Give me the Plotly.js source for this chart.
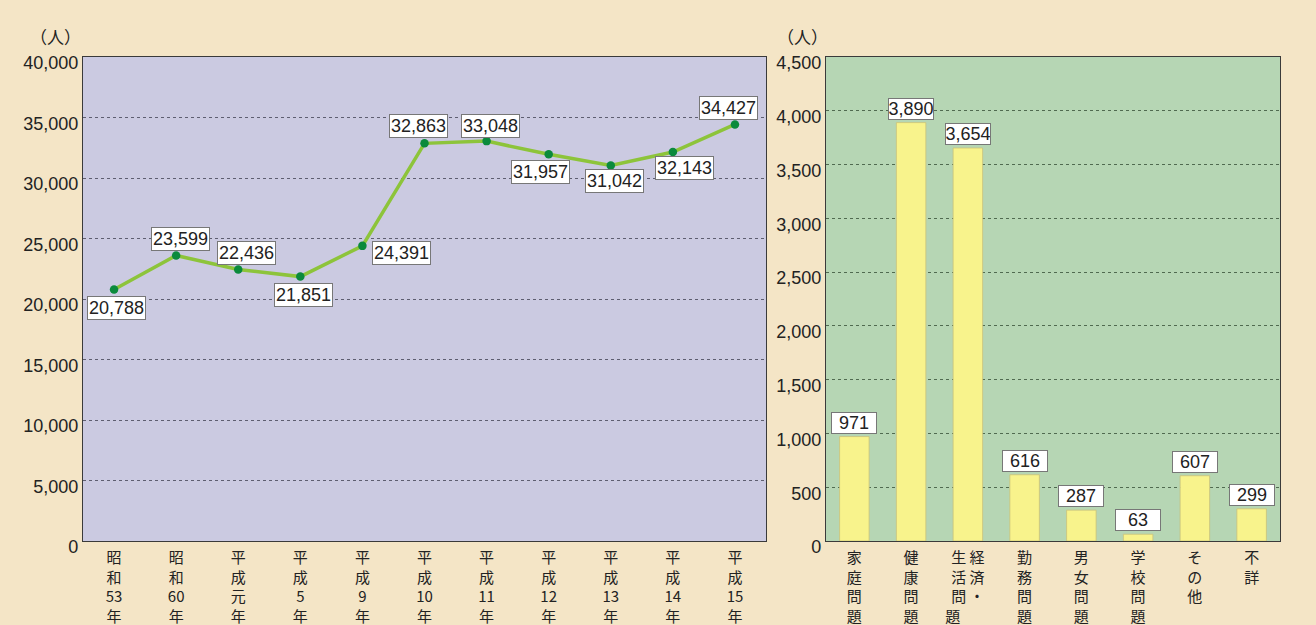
<!DOCTYPE html>
<html>
<head>
<meta charset="utf-8">
<script src="https://cdn.plot.ly/plotly-3.0.1.min.js"></script>
<style>html,body{margin:0;padding:0;background:#f4e5c6;}</style>
</head>
<body>
<div id="chart" style="width:1316px;height:625px;"></div>
<script>
// ---- data ----
var yearCategories = ['昭和53年','昭和60年','平成元年','平成5年','平成9年','平成10年','平成11年','平成12年','平成13年','平成14年','平成15年'];
var yearTickLabels = ['昭<br>和<br>53<br>年','昭<br>和<br>60<br>年','平<br>成<br>元<br>年','平<br>成<br>5<br>年','平<br>成<br>9<br>年','平<br>成<br>10<br>年','平<br>成<br>11<br>年','平<br>成<br>12<br>年','平<br>成<br>13<br>年','平<br>成<br>14<br>年','平<br>成<br>15<br>年'];
var yearValues = [20788, 23599, 22436, 21851, 24391, 32863, 33048, 31957, 31042, 32143, 34427];

var reasonCategories = ['家庭問題','健康問題','経済・生活問題','勤務問題','男女問題','学校問題','その他','不詳'];
var reasonTickLabels = ['家<br>庭<br>問<br>題','健<br>康<br>問<br>題','生 経<br>活 済<br>問 ・<br>題　　','勤<br>務<br>問<br>題','男<br>女<br>問<br>題','学<br>校<br>問<br>題','そ<br>の<br>他','不<br>詳'];
var reasonValues = [971, 3890, 3654, 616, 287, 63, 607, 299];

var unitLabel = '（人）';

// ---- label placement (style only) ----
var lineLabelDX = [2, 4, 8, 3, 39, -6, 4, -8, 4, 12, -6];
var lineLabelDY = [-19, 16, 17, -18, -7, 17, 15, -18, -16, -16, 16];

var fmt = function(v){ return v.toLocaleString('en-US'); };
var numFont = {family:'Liberation Sans, Arial, sans-serif', size:18, color:'#222'};
var cjkFont = {family:'Noto Sans CJK JP, sans-serif', size:15, color:'#222'};

var annotations = [];
yearValues.forEach(function(v,i){
  annotations.push({
    x: yearCategories[i], y: v, xref:'x', yref:'y',
    text: fmt(v), showarrow:false,
    xanchor:'center', yanchor:'middle',
    xshift: lineLabelDX[i], yshift: lineLabelDY[i],
    bgcolor:'#ffffff', bordercolor:'#777', borderwidth:1, borderpad:1,
    font: numFont
  });
});
reasonValues.forEach(function(v,i){
  annotations.push({
    x: reasonCategories[i], y: v, xref:'x2', yref:'y2',
    text: fmt(v), showarrow:false, width:44,
    xanchor:'center', yanchor:'bottom', yshift: 3,
    bgcolor:'#ffffff', bordercolor:'#777', borderwidth:1, borderpad:0,
    font: numFont
  });
});
annotations.push({xref:'paper', yref:'paper', x:0.0, y:1.0, yshift:21, xanchor:'right', yanchor:'middle',
  text: unitLabel, showarrow:false, font:{family:'Noto Sans CJK JP, sans-serif', size:17, color:'#222'}});
annotations.push({xref:'paper', yref:'paper', x:0.624, y:1.0, yshift:21, xanchor:'right', yanchor:'middle',
  text: unitLabel, showarrow:false, font:{family:'Noto Sans CJK JP, sans-serif', size:17, color:'#222'}});

var traces = [
  {
    type:'scatter', mode:'lines+markers',
    x: yearCategories, y: yearValues, xaxis:'x', yaxis:'y',
    line:{color:'#8dc43a', width:3.5},
    marker:{color:'#0b8a3c', size:8.5},
    hoverinfo:'x+y'
  },
  {
    type:'bar', x: reasonCategories, y: reasonValues, xaxis:'x2', yaxis:'y2',
    width:0.52,
    marker:{color:'#f8f38c', line:{color:'#c9c27a', width:0.8}},
    hoverinfo:'x+y'
  }
];

var axisCommon = {showline:true, mirror:true, linecolor:'#3a3a3a', linewidth:1.2, ticks:'', zeroline:false};

var layout = {
  width:1316, height:625,
  margin:{l:83, r:36, t:57, b:84},
  paper_bgcolor:'#f4e5c6',
  plot_bgcolor:'rgba(0,0,0,0)',
  showlegend:false,
  font:{family:'Liberation Sans, Arial, sans-serif', color:'#222'},
  xaxis: Object.assign({}, axisCommon, {
    domain:[0,0.5706], type:'category', range:[-0.5,10.5],
    tickvals: yearCategories, ticktext: yearTickLabels, tickangle:0,
    tickfont: cjkFont, showgrid:false, ticklabelstandoff:3
  }),
  yaxis: Object.assign({}, axisCommon, {
    domain:[0,1], range:[0,40000], dtick:5000, tickformat:',d',
    showgrid:true, gridcolor:'#5e5e70', griddash:'dot', gridwidth:1,
    tickfont: numFont, ticklabelshift:6
  }),
  xaxis2: Object.assign({}, axisCommon, {
    domain:[0.6207,1], anchor:'y2', type:'category', range:[-0.5,7.5],
    tickvals: reasonCategories, ticktext: reasonTickLabels, tickangle:0,
    tickfont: cjkFont, showgrid:false, ticklabelstandoff:3
  }),
  yaxis2: Object.assign({}, axisCommon, {
    domain:[0,1], anchor:'x2', range:[0,4500], dtick:500, tickformat:',d',
    showgrid:true, gridcolor:'#506a50', griddash:'dot', gridwidth:1,
    tickfont: numFont, ticklabelshift:6
  }),
  shapes:[
    {type:'rect', xref:'x domain', yref:'y domain', x0:0, x1:1, y0:0, y1:1, fillcolor:'#cbcae1', line:{width:0}, layer:'below'},
    {type:'rect', xref:'x2 domain', yref:'y2 domain', x0:0, x1:1, y0:0, y1:1, fillcolor:'#b6d6b4', line:{width:0}, layer:'below'}
  ],
  annotations: annotations
};

Plotly.newPlot('chart', traces, layout, {displayModeBar:false, staticPlot:true});
</script>
</body>
</html>
